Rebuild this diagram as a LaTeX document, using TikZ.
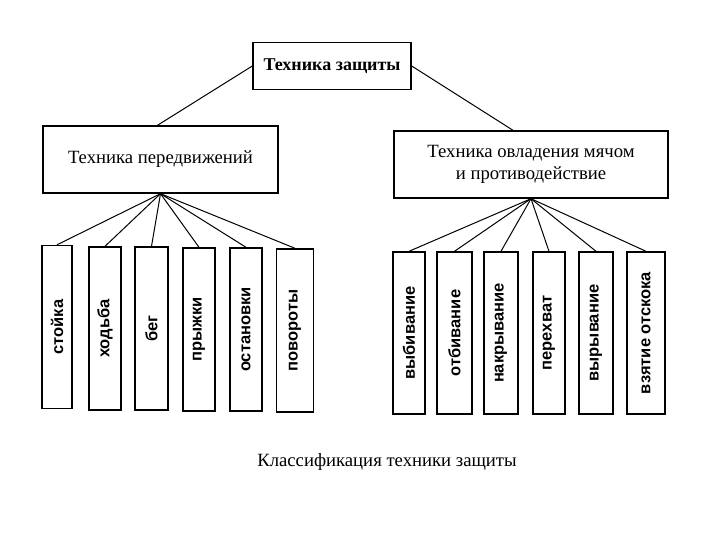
\documentclass[tikz,border=0pt]{standalone}
\usepackage{fontspec}
\setmainfont{Liberation Serif}
\newfontfamily\vfont{Liberation Sans}
\begin{document}
\begin{tikzpicture}[x=1pt,y=-1pt,
  box/.style={draw=black, line width=1.4pt, inner sep=0pt, align=center, font=\fontsize{18.7}{22}\selectfont},
  leaf/.style={draw=black, line width=1.4pt, inner sep=0pt, minimum height=163pt, minimum width=32pt},
  vlabel/.style={rotate=90, font=\vfont\bfseries\fontsize{16.5}{19}\selectfont, inner sep=0pt},
  conn/.style={draw=black, line width=1pt}]
\useasboundingbox (0,0) rectangle (720,540);
% top level
\node[box, minimum width=158pt, minimum height=47pt, font=\bfseries\fontsize{18}{21}\selectfont] (top) at (332,66) {Техника защиты};
\node[box, minimum width=235pt, minimum height=67pt] (lm) at (160.5,159.5) {Техника передвижений};
\node[box, minimum width=274pt, minimum height=67pt] (rm) at (531,164.5) {Техника овладения мячом\\и противодействие};
\draw[conn] (top.west) -- ([xshift=-3pt]lm.north);
\draw[conn] (top.east) -- ([xshift=-18pt]rm.north);
% left leaves
\node[leaf, minimum width=30pt] (l1) at (57,327) {};
\node[leaf] (l2) at (105,328.5) {};
\node[leaf, minimum width=33pt] (l3) at (151.5,328.5) {};
\node[leaf] (l4) at (199,329.5) {};
\node[leaf] (l5) at (246,329.5) {};
\node[leaf, minimum width=37pt] (l6) at (295,330.5) {};
\node[vlabel] (t1) at (l1) {стойка};
\node[vlabel] (t2) at (l2) {ходьба};
\node[vlabel] (t3) at (l3) {бег};
\node[vlabel] (t4) at (l4) {прыжки};
\node[vlabel] (t5) at (l5) {остановки};
\node[vlabel] (t6) at (l6) {повороты};
\foreach \n in {l1,l2,l3,l4,l5,l6} \draw[conn] (lm.south) -- (\n.north);
% right leaves
\node[leaf, minimum height=162pt] (r1) at (409,333) {};
\node[leaf, minimum height=162pt, minimum width=35pt] (r2) at (454.5,333) {};
\node[leaf, minimum height=162pt, minimum width=34pt] (r3) at (501,333) {};
\node[leaf, minimum height=162pt] (r4) at (549,333) {};
\node[leaf, minimum height=162pt, minimum width=34pt] (r5) at (596,333) {};
\node[leaf, minimum height=162pt, minimum width=38pt] (r6) at (646,333) {};
\node[vlabel] (s1) at (r1) {выбивание};
\node[vlabel] (s2) at (r2) {отбивание};
\node[vlabel] (s3) at (r3) {накрывание};
\node[vlabel] (s4) at (r4) {перехват};
\node[vlabel] (s5) at (r5) {вырывание};
\node[vlabel] (s6) at (r6) {взятие отскока};
\foreach \n in {r1,r2,r3,r4,r5,r6} \draw[conn] (rm.south) -- (\n.north);
% caption
\node[font=\fontsize{18.7}{22}\selectfont] (cap) at (387,462) {Классификация техники защиты};
\end{tikzpicture}
\end{document}
